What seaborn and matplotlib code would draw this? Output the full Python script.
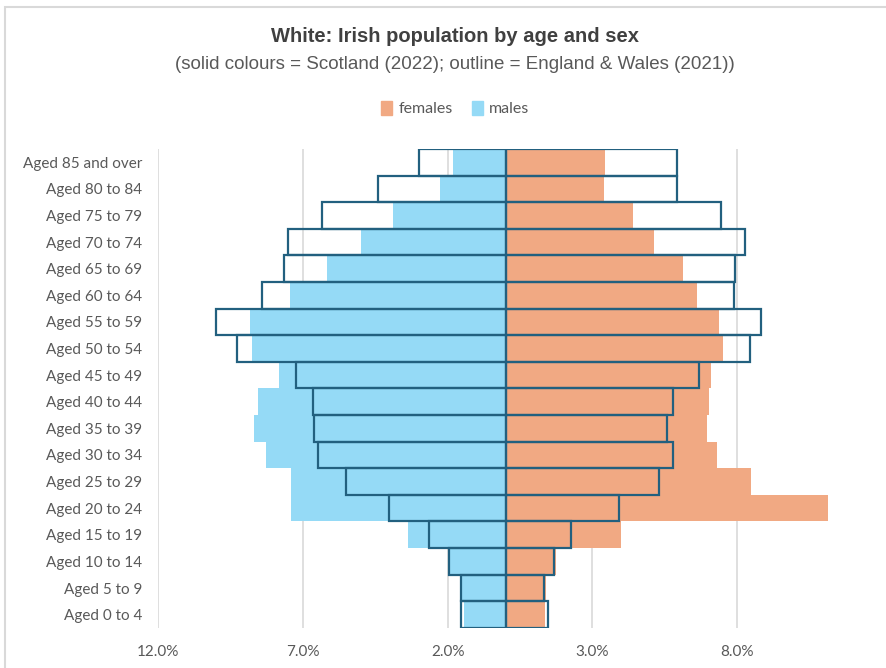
import matplotlib
matplotlib.use("Agg")
import matplotlib.pyplot as plt
import matplotlib.patches as mpatches
import seaborn as sns
import numpy as np

# age bands, top of the pyramid first
ages = ["Aged 85 and over", "Aged 80 to 84", "Aged 75 to 79", "Aged 70 to 74",
        "Aged 65 to 69", "Aged 60 to 64", "Aged 55 to 59", "Aged 50 to 54",
        "Aged 45 to 49", "Aged 40 to 44", "Aged 35 to 39", "Aged 30 to 34",
        "Aged 25 to 29", "Aged 20 to 24", "Aged 15 to 19", "Aged 10 to 14",
        "Aged 5 to 9", "Aged 0 to 4"]

# Scotland 2022 (solid), % of group
males_scot = [1.83, 2.25, 3.88, 4.98, 6.16, 7.45, 8.82, 8.76, 7.81, 8.53,
              8.69, 8.28, 7.42, 7.42, 3.38, 1.98, 1.52, 1.44]
females_scot = [3.45, 3.39, 4.39, 5.12, 6.13, 6.62, 7.36, 7.49, 7.09, 7.03,
                6.96, 7.29, 8.49, 11.12, 3.98, 1.75, 1.39, 1.37]

# England & Wales 2021 (outline)
males_ew = [2.98, 4.40, 6.33, 7.52, 7.66, 8.39, 9.99, 9.26, 7.22, 6.65,
            6.62, 6.48, 5.52, 4.01, 2.63, 1.94, 1.55, 1.55]
females_ew = [5.93, 5.93, 7.43, 8.25, 7.93, 7.90, 8.83, 8.45, 6.68, 5.79,
              5.57, 5.79, 5.30, 3.93, 2.27, 1.66, 1.33, 1.46]

tick_vals = [-12, -7, -2, 3, 8]
tick_labels = ["12.0%", "7.0%", "2.0%", "3.0%", "8.0%"]

female_col = "#F1A983"
male_col = "#95DAF6"
outline_col = "#22607F"
text_col = "#595959"

sns.set_style("white")
plt.rcParams["font.family"] = ["Lato", "DejaVu Sans"]

fig = plt.figure(figsize=(8.87, 6.68), dpi=100)
ax = fig.add_axes([0.178, 0.06, 0.81, 0.717])

for x in tick_vals:
    ax.axvline(x, color="#D9D9D9", lw=1.2, zorder=0)

sns.barplot(x=-np.array(males_scot), y=ages, color=male_col, width=1.0,
            errorbar=None, linewidth=0, saturation=1, ax=ax, zorder=2)
sns.barplot(x=np.array(females_scot), y=ages, color=female_col, width=1.0,
            errorbar=None, linewidth=0, saturation=1, ax=ax, zorder=2)
ax.axvline(0, color="white", lw=1.5, zorder=2.5)
sns.barplot(x=-np.array(males_ew), y=ages, color=outline_col, fill=False, width=1.0,
            errorbar=None, linewidth=1.6, saturation=1, ax=ax, zorder=3)
sns.barplot(x=np.array(females_ew), y=ages, color=outline_col, fill=False, width=1.0,
            errorbar=None, linewidth=1.6, saturation=1, ax=ax, zorder=3)

ax.set_xlim(-12, 12.8)
ax.set_ylim(len(ages) - 0.5, -0.5)
ax.set_xticks(tick_vals)
ax.set_xticklabels(tick_labels)
ax.set_xlabel("")
ax.set_ylabel("")
ax.tick_params(axis="both", length=0, labelsize=11, colors=text_col)
ax.tick_params(axis="y", pad=11)
ax.tick_params(axis="x", pad=12)
for s in ax.spines.values():
    s.set_visible(False)

fig.text(0.513, 0.945, "White: Irish population by age and sex", ha="center", va="center",
         fontsize=14.5, fontweight="bold", color="#404040",
         family=["Liberation Sans", "DejaVu Sans"])
fig.text(0.513, 0.903, "(solid colours = Scotland (2022); outline = England & Wales (2021))",
         ha="center", va="center", fontsize=13.5, color=text_col,
         family=["Liberation Sans", "DejaVu Sans"])

handles = [mpatches.Patch(color=female_col, label="females"),
           mpatches.Patch(color=male_col, label="males")]
fig.legend(handles=handles, loc="center", bbox_to_anchor=(0.513, 0.837), ncol=2,
           frameon=False, fontsize=11.5, handlelength=0.7, handleheight=0.9,
           handletextpad=0.4, columnspacing=1.2, labelcolor=text_col)

fig.patches.append(mpatches.Rectangle((0.006, -0.01), 1.2, 1.0, transform=fig.transFigure,
                                      fill=False, edgecolor="#D9D9D9", lw=1.5))

fig.savefig("out.png", dpi=100)
